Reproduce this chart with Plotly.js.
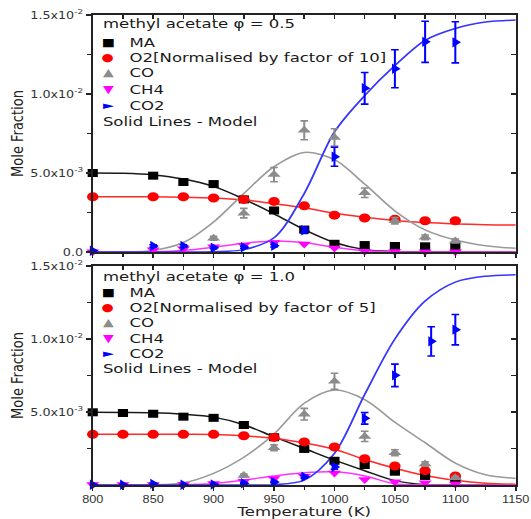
<!DOCTYPE html>
<html><head><meta charset="utf-8">
<script src="https://cdn.plot.ly/plotly-3.0.1.min.js"></script>
<style>
html,body{margin:0;padding:0;background:#fff;overflow:hidden}
#wrap{width:531px;height:519px;overflow:hidden}
#plot{width:418px;height:519px;transform:scaleX(1.27033);transform-origin:0 0}
</style></head><body><div id="wrap"><div id="plot"></div></div>
<script>
// ---------- DATA (mole fraction, in units of 1e-3) ----------
// Top panel: methyl acetate phi = 0.5
const T_top      = [800, 850, 875, 900, 925, 950, 975, 1000, 1025, 1050, 1075, 1100];
const MA_top     = [5.00, 4.83, 4.43, 4.30, 3.33, 2.63, 1.42, 0.52, 0.44, 0.38, 0.36, 0.33];
const O2_top     = [3.50, 3.50, 3.50, 3.42, 3.33, 3.20, 2.92, 2.33, 2.15, 2.07, 1.98, 1.98];
const CH4_top    = [0.02, 0.15, 0.20, 0.34, 0.42, 0.60, 0.50, 0.26, 0.04, 0.03, 0.02, 0.02];
const CO2_top    = [0.08, 0.38, 0.38, 0.27, 0.30, 0.40, 1.38, 6.03, 10.36, 11.60, 13.30, 13.27];
const CO2_top_err= [0.05, 0.08, 0.08, 0.06, 0.06, 0.08, 0.20, 0.60, 1.00, 1.20, 1.30, 1.30];
const T_CO_top   = [900, 925, 950, 975, 1000, 1025, 1050, 1075, 1100];
const CO_top     = [0.87, 2.46, 4.90, 7.70, 7.25, 3.75, 1.98, 0.93, 0.70];
const CO_top_err = [0.12, 0.30, 0.45, 0.60, 0.55, 0.30, 0.20, 0.15, 0.12];

// Model curves (solid lines)
const T_model       = [800, 825, 850, 875, 900, 925, 950, 975, 1000, 1025, 1050, 1075, 1100, 1125, 1150];
const MA_model_top  = [5.00, 4.98, 4.88, 4.62, 4.15, 3.35, 2.42, 1.42, 0.60, 0.15, 0.03, 0.00, 0.00, 0.00, 0.00];
const O2_model_top  = [3.50, 3.50, 3.49, 3.47, 3.42, 3.30, 3.06, 2.80, 2.45, 2.20, 2.00, 1.86, 1.78, 1.73, 1.71];
const CO_model_top  = [0.00, 0.00, 0.10, 0.60, 1.90, 3.70, 5.40, 6.30, 5.85, 4.30, 2.60, 1.40, 0.76, 0.40, 0.23];
const CH4_model_top = [0.00, 0.00, 0.02, 0.10, 0.30, 0.55, 0.70, 0.60, 0.30, 0.08, 0.01, 0.00, 0.00, 0.00, 0.00];
const CO2_model_top = [0.00, 0.00, 0.00, 0.00, 0.02, 0.15, 0.90, 3.70, 7.60, 9.90, 11.80, 13.40, 14.15, 14.55, 14.68];

// Bottom panel: methyl acetate phi = 1.0
const T_bot      = [800, 825, 850, 875, 900, 925, 950, 975, 1000, 1025, 1050, 1075, 1100];
const MA_bot     = [4.98, 4.93, 4.88, 4.68, 4.60, 4.11, 3.27, 2.47, 1.66, 1.37, 0.91, 0.62, 0.43];
const O2_bot     = [3.47, 3.47, 3.47, 3.47, 3.47, 3.37, 3.26, 2.95, 2.60, 1.80, 1.30, 0.98, 0.62];
const CH4_bot    = [0.03, 0.03, 0.03, 0.04, 0.10, 0.25, 0.45, 0.60, 0.82, 0.38, 0.23, 0.15, 0.06];
const T_CO2_bot  = [800, 825, 850, 875, 900, 925, 950, 975, 1000, 1025, 1050, 1080, 1100];
const CO2_bot    = [0.02, 0.02, 0.08, 0.02, 0.03, 0.12, 0.20, 0.57, 1.23, 4.57, 7.51, 9.84, 10.64];
const CO2_bot_err= [0.03, 0.03, 0.03, 0.03, 0.03, 0.05, 0.05, 0.10, 0.15, 0.40, 0.77, 1.00, 1.04];
const T_CO_bot   = [925, 950, 975, 1000, 1025, 1050, 1075, 1100];
const CO_bot     = [0.65, 2.55, 4.85, 7.10, 3.33, 2.21, 1.44, 0.50];
const CO_bot_err = [0.10, 0.20, 0.40, 0.55, 0.35, 0.20, 0.15, 0.10];

const MA_model_bot  = [4.98, 4.97, 4.95, 4.85, 4.65, 4.13, 3.30, 2.50, 1.70, 0.98, 0.30, 0.03, 0.00, 0.00, 0.00];
const O2_model_bot  = [3.47, 3.47, 3.47, 3.47, 3.46, 3.37, 3.20, 2.88, 2.45, 1.75, 1.15, 0.65, 0.32, 0.12, 0.05];
const CO_model_bot  = [0.00, 0.00, 0.00, 0.15, 0.80, 1.90, 3.50, 5.60, 6.50, 5.85, 4.30, 2.90, 1.50, 0.70, 0.45];
const CH4_model_bot = [0.00, 0.00, 0.00, 0.01, 0.10, 0.34, 0.62, 0.84, 0.90, 0.62, 0.08, 0.01, 0.00, 0.00, 0.00];
const CO2_model_bot = [0.00, 0.00, 0.00, 0.00, 0.00, 0.00, 0.02, 0.34, 2.17, 6.20, 10.00, 12.60, 13.90, 14.30, 14.40];

// Labels
const species     = ['MA', 'O2', 'CO', 'CH4', 'CO2'];
const labels_top  = ['MA', 'O2[Normalised by factor of 10]', 'CO', 'CH4', 'CO2'];
const labels_bot  = ['MA', 'O2[Normalised by factor of 5]', 'CO', 'CH4', 'CO2'];
const header_top  = 'methyl acetate φ = 0.5';
const header_bot  = 'methyl acetate φ = 1.0';
const modelNote   = 'Solid Lines - Model';
const xTicks      = [800, 850, 900, 950, 1000, 1050, 1100, 1150];
const yTickVals_top = [0, 5, 10, 15];
const yTickText_top = ['0.0', '5.0x10<sup>-3</sup>', '1.0x10<sup>-2</sup>', '1.5x10<sup>-2</sup>'];
const yTickVals_bot = [5, 10, 15];
const yTickText_bot = ['5.0x10<sup>-3</sup>', '1.0x10<sup>-2</sup>', '1.5x10<sup>-2</sup>'];

// ---------- STYLE ----------
const color  = {MA:'#000000', O2:'#ff0000', CO:'#8c8c8c', CH4:'#ff00ff', CO2:'#0000ff'};
const lcolor = {MA:'#1a1a1a', O2:'#ff2a2a', CO:'#9a9a9a', CH4:'#ff33ff', CO2:'#3535ff'};
const symbol = {MA:'square', O2:'circle', CO:'triangle-up', CH4:'triangle-down', CO2:'triangle-right'};
const msize  = {MA:8, O2:9, CO:9, CH4:9, CO2:9};
const glyph  = {MA:'■', O2:'●', CO:'▲', CH4:'▼', CO2:'►'};

function model(xa, ya, x, y, sp){
  return {type:'scatter', mode:'lines', x:x, y:y, xaxis:xa, yaxis:ya,
    line:{color:lcolor[sp], width:1.5, shape:'spline', smoothing:0.9},
    hoverinfo:'skip', showlegend:false};
}
function pts(xa, ya, x, y, sp, err){
  const t = {type:'scatter', mode:'markers', x:x, y:y, xaxis:xa, yaxis:ya, name:sp,
    marker:{symbol:symbol[sp], color:color[sp], size:msize[sp], line:{width:0}},
    cliponaxis:false, showlegend:false};
  if (err) t.error_y = {type:'data', array:err, visible:true, color:color[sp], thickness:1.6, width:3};
  return t;
}

const traces = [
  // top panel (x2,y2)
  model('x2','y2', T_model, MA_model_top, 'MA'),
  model('x2','y2', T_model, O2_model_top, 'O2'),
  model('x2','y2', T_model, CO_model_top, 'CO'),
  model('x2','y2', T_model, CH4_model_top, 'CH4'),
  model('x2','y2', T_model, CO2_model_top, 'CO2'),
  pts('x2','y2', T_top, MA_top, 'MA'),
  pts('x2','y2', T_top, O2_top, 'O2'),
  pts('x2','y2', T_CO_top, CO_top, 'CO', CO_top_err),
  pts('x2','y2', T_top, CH4_top, 'CH4'),
  pts('x2','y2', T_top, CO2_top, 'CO2', CO2_top_err),
  // bottom panel (x,y)
  model('x','y', T_model, MA_model_bot, 'MA'),
  model('x','y', T_model, O2_model_bot, 'O2'),
  model('x','y', T_model, CO_model_bot, 'CO'),
  model('x','y', T_model, CH4_model_bot, 'CH4'),
  model('x','y', T_model, CO2_model_bot, 'CO2'),
  pts('x','y', T_bot, MA_bot, 'MA'),
  pts('x','y', T_bot, O2_bot, 'O2'),
  pts('x','y', T_CO_bot, CO_bot, 'CO', CO_bot_err),
  pts('x','y', T_bot, CH4_bot, 'CH4'),
  pts('x','y', T_CO2_bot, CO2_bot, 'CO2', CO2_bot_err),
  // empty traces so the inner-tick overlay axes get drawn
  {type:'scatter', x:[], y:[], xaxis:'x3', yaxis:'y', showlegend:false, hoverinfo:'skip'},
  {type:'scatter', x:[], y:[], xaxis:'x', yaxis:'y3', showlegend:false, hoverinfo:'skip'},
  {type:'scatter', x:[], y:[], xaxis:'x4', yaxis:'y2', showlegend:false, hoverinfo:'skip'},
  {type:'scatter', x:[], y:[], xaxis:'x2', yaxis:'y4', showlegend:false, hoverinfo:'skip'}
];

// ---------- LAYOUT ----------
const W = 418, H = 519, S = 531/418;
const M = {l:73, r:12, t:15, b:34};
const plotW = W - M.l - M.r, plotH = H - M.t - M.b;
function PX(X){ return (X/S - M.l)/plotW; }     // reference px -> paper x
function PY(Y){ return (H - M.b - Y)/plotH; }   // reference px -> paper y

const AX = '#222';
const tickFontX = {family:'Liberation Sans, Arial, sans-serif', size:10, color:'#333'};
const tickFontY = {family:'DejaVu Sans, sans-serif', size:10, color:'#333'};
const titleFont = {family:'DejaVu Sans, sans-serif', size:13, color:'#222'};
const legFont   = {family:'DejaVu Sans, sans-serif', size:13, color:'#1a1a1a'};

function xMain(anchor, labels){
  return {anchor:anchor, domain:[0,1], range:[800,1150], autorange:false,
    tickmode:'array', tickvals:xTicks, showticklabels:labels,
    ticks:'outside', ticklen:4, tickwidth:1.2, tickcolor:AX,
    minor:{tickmode:'array', tickvals:[825,875,925,975,1025,1075,1125], ticks:'outside', ticklen:3, tickwidth:1, tickcolor:AX},
    showline:true, linecolor:AX, linewidth:1.6, mirror:true,
    showgrid:false, zeroline:false, tickfont:tickFontX, automargin:false};
}
function yMain(anchor, domain, tvals, ttext){
  return {anchor:anchor, domain:domain, range:[0,15], autorange:false,
    tickmode:'array', tickvals:tvals, ticktext:ttext,
    ticks:'outside', ticklen:4, tickwidth:1.2, tickcolor:AX,
    minor:{tickmode:'array', tickvals:[2.5,7.5,12.5], ticks:'outside', ticklen:3, tickwidth:1, tickcolor:AX},
    showline:true, linecolor:AX, linewidth:1.6, mirror:true,
    showgrid:false, zeroline:false, tickfont:tickFontY, automargin:false,
    title:{text:'Mole Fraction', font:titleFont, standoff:2}};
}
function xIn(over, anchor){
  return {overlaying:over, anchor:anchor, side:'top', range:[800,1150], autorange:false,
    tickmode:'linear', tick0:800, dtick:25, ticks:'inside', ticklen:4, tickwidth:1.2, tickcolor:AX,
    showticklabels:false, showline:false, showgrid:false, zeroline:false};
}
function yIn(over, anchor){
  return {overlaying:over, anchor:anchor, side:'right', range:[0,15], autorange:false,
    tickmode:'linear', tick0:0, dtick:2.5, ticks:'inside', ticklen:4, tickwidth:1.2, tickcolor:AX,
    showticklabels:false, showline:false, showgrid:false, zeroline:false};
}

const topDom = [PY(252), 1];
const botDom = [0, PY(266)];

const xaxis = xMain('y', true);
xaxis.title = {text:'Temperature (K)', font:titleFont, standoff:6};
const xaxis2 = xMain('y2', false);
xaxis2.matches = 'x';

// legend-like text block drawn as annotations
function legendBlock(header, labels, yHeader, yRows, yNote){
  const a = [];
  a.push({xref:'paper', yref:'paper', x:PX(100), y:PY(yHeader), xanchor:'left', yanchor:'middle',
          text:header, showarrow:false, font:legFont});
  species.forEach((sp, i) => {
    a.push({xref:'paper', yref:'paper', x:PX(108.5), y:PY(yRows[i]), xanchor:'center', yanchor:'middle',
            text:glyph[sp], showarrow:false, font:{family:'DejaVu Sans, sans-serif', size:11, color:color[sp]}});
    a.push({xref:'paper', yref:'paper', x:PX(127), y:PY(yRows[i]), xanchor:'left', yanchor:'middle',
            text:labels[i], showarrow:false, font:legFont});
  });
  a.push({xref:'paper', yref:'paper', x:PX(100), y:PY(yNote), xanchor:'left', yanchor:'middle',
          text:modelNote, showarrow:false, font:legFont});
  return a;
}
const annotations = [].concat(
  legendBlock(header_top, labels_top, 24, [42, 57.5, 73, 89.5, 105], 121),
  legendBlock(header_bot, labels_bot, 276.5, [292, 307.5, 322.5, 338, 353], 368)
);

const layout = {
  width:W, height:H, margin:M,
  paper_bgcolor:'#ffffff', plot_bgcolor:'rgba(0,0,0,0)',
  showlegend:false, hovermode:false,
  xaxis:xaxis, xaxis2:xaxis2,
  yaxis:yMain('x', botDom, yTickVals_bot, yTickText_bot),
  yaxis2:yMain('x2', topDom, yTickVals_top, yTickText_top),
  xaxis3:xIn('x','y'), xaxis4:xIn('x2','y2'),
  yaxis3:yIn('y','x'), yaxis4:yIn('y2','x2'),
  annotations:annotations
};

Plotly.newPlot('plot', traces, layout, {staticPlot:true, displayModeBar:false});
</script></body></html>
